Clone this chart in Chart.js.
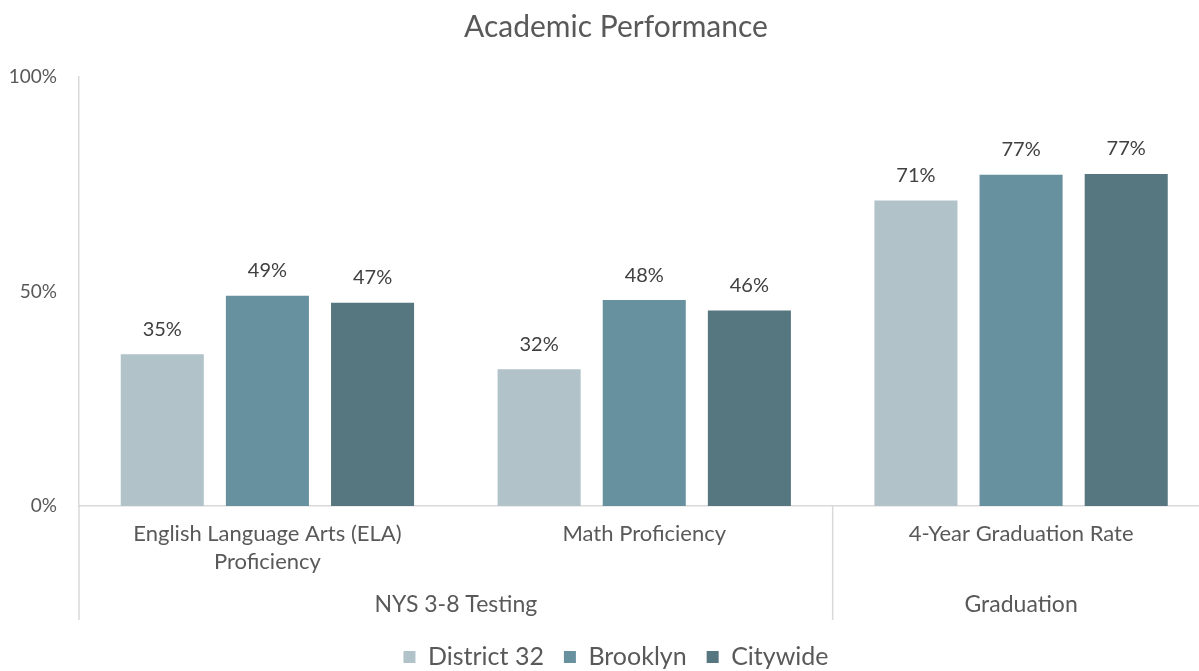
<!DOCTYPE html>
<html>
<head>
<meta charset="utf-8">
<script src="https://cdn.jsdelivr.net/npm/chart.js@4/dist/chart.umd.min.js"></script>
<style>
  html, body { margin: 0; padding: 0; background: #fff; overflow: hidden; }
  #wrap { width: 1232px; height: 671px; }
</style>
</head>
<body>
<div id="wrap"><canvas id="myChart"></canvas></div>
<script>
// chart data
var categories = [["English Language Arts (ELA)", "Proficiency"], "Math Proficiency", "4-Year Graduation Rate"];
var groups = [
  { label: "NYS 3-8 Testing", from: 0, to: 1 },
  { label: "Graduation", from: 2, to: 2 }
];
var district32 = [35.4, 31.9, 71.2];
var brooklyn = [49.0, 48.0, 77.2];
var citywide = [47.4, 45.6, 77.4];
var yTicks = [0, 50, 100];

var textGray = '#595959';
var lineGray = '#d9d9d9';
var fontFam = 'Lato, "Open Sans", sans-serif';

// value labels above bars
var barLabels = {
  id: 'barLabels',
  afterDatasetsDraw: function(chart) {
    var ctx = chart.ctx;
    ctx.save();
    ctx.font = '20px ' + fontFam;
    ctx.fillStyle = '#404040';
    ctx.textAlign = 'center';
    ctx.textBaseline = 'middle';
    chart.data.datasets.forEach(function(ds, i) {
      chart.getDatasetMeta(i).data.forEach(function(bar, j) {
        ctx.fillText(Math.round(ds.data[j]) + '%', bar.x, bar.y - 25);
      });
    });
    ctx.restore();
  }
};

// second level of the x axis (group names + dividers)
var groupAxis = {
  id: 'groupAxis',
  afterDraw: function(chart) {
    var ctx = chart.ctx;
    var x = chart.scales.x;
    var area = chart.chartArea;
    var half = (x.getPixelForValue(1) - x.getPixelForValue(0)) / 2;
    ctx.save();
    ctx.strokeStyle = lineGray;
    ctx.lineWidth = 1.5;
    // y axis line runs down through the label area
    ctx.beginPath();
    ctx.moveTo(area.left, area.bottom);
    ctx.lineTo(area.left, area.bottom + 114);
    ctx.stroke();
    ctx.font = '23px ' + fontFam;
    ctx.fillStyle = textGray;
    ctx.textAlign = 'center';
    ctx.textBaseline = 'middle';
    groups.forEach(function(g, k) {
      var l = x.getPixelForValue(g.from) - half;
      var r = x.getPixelForValue(g.to) + half;
      if (k < groups.length - 1) {
        ctx.beginPath();
        ctx.moveTo(r, area.bottom);
        ctx.lineTo(r, area.bottom + 114);
        ctx.stroke();
      }
      ctx.fillText(g.label, (l + r) / 2, area.bottom + 99);
    });
    ctx.restore();
  }
};

var ctx = document.getElementById('myChart').getContext('2d');
var myChart = new Chart(ctx, {
  type: 'bar',
  data: {
    labels: categories,
    datasets: [
      { label: 'District 32', data: district32, backgroundColor: '#b2c2c9' },
      { label: 'Brooklyn', data: brooklyn, backgroundColor: '#68919f' },
      { label: 'Citywide', data: citywide, backgroundColor: '#56777f' }
    ]
  },
  plugins: [barLabels, groupAxis],
  options: {
    responsive: true,
    maintainAspectRatio: false,
    animation: false,
    datasets: {
      bar: { categoryPercentage: 0.837, barPercentage: 0.79 }
    },
    layout: { padding: { left: 0, right: 0, top: 0, bottom: -8.5 } },
    plugins: {
      title: {
        display: true,
        text: 'Academic Performance',
        color: textGray,
        font: { family: fontFam, size: 30, weight: 'normal' },
        padding: { top: 9, bottom: 32 }
      },
      legend: {
        position: 'bottom',
        labels: {
          color: textGray,
          font: { family: fontFam, size: 25 },
          boxWidth: 12,
          boxHeight: 12,
          padding: 20
        }
      },
      tooltip: { enabled: false }
    },
    scales: {
      x: {
        grid: { display: false, drawTicks: false },
        border: { display: true, color: lineGray, width: 1.5 },
        ticks: {
          color: textGray,
          font: { family: fontFam, size: 22, lineHeight: 1.27 },
          padding: 14,
          maxRotation: 0
        },
        afterFit: function(s) { s.height = 118.5; }
      },
      y: {
        min: 0,
        max: 100,
        grid: { display: false, drawTicks: false },
        border: { display: true, color: lineGray, width: 1.5 },
        afterBuildTicks: function(s) { s.ticks = yTicks.map(function(v) { return { value: v }; }); },
        ticks: {
          color: textGray,
          font: { family: fontFam, size: 19 },
          padding: 22,
          callback: function(v) { return v + '%'; }
        },
        afterFit: function(s) { s.width = 79; }
      },
      yRight: {
        position: 'right',
        display: true,
        grid: { display: false, drawTicks: false },
        border: { display: false },
        ticks: { display: false },
        afterFit: function(s) { s.width = 22.5; }
      }
    }
  }
});
</script>
</body>
</html>
